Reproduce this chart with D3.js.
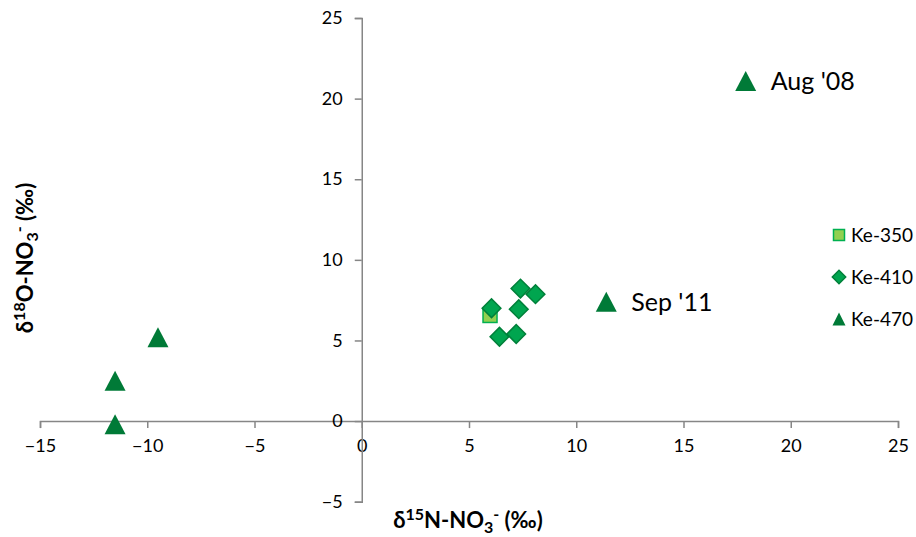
<!DOCTYPE html>
<html>
<head>
<meta charset="utf-8">
<script src="https://cdn.jsdelivr.net/npm/d3@7"></script>
<style>
  body { margin: 0; background: #fff; }
  svg text { font-family: Lato, "Open Sans", sans-serif; fill: #000; }
</style>
</head>
<body>
<div id="chart"></div>
<script>
// values (d15N, d18O)
var ke350 = [[5.98, 6.55]];
var ke410 = [[6.05, 7.0], [7.4, 8.22], [8.1, 7.87], [7.32, 6.94], [6.42, 5.23], [7.2, 5.4]];
var ke470 = [[-11.5, -0.2], [-11.5, 2.5], [-9.5, 5.2], [11.4, 7.4], [17.9, 21.1]];
var notes = [{x: 17.9, y: 21.1, text: "Aug '08"}, {x: 11.4, y: 7.4, text: "Sep '11"}];
var xTicks = [-15, -10, -5, 0, 5, 10, 15, 20, 25];
var yTicks = [-5, 0, 5, 10, 15, 20, 25];
var seriesNames = ["Ke-350", "Ke-410", "Ke-470"];

var width = 916, height = 537;

var svg = d3.select("#chart").append("svg")
    .attr("width", width)
    .attr("height", height);

var x = d3.scaleLinear().domain([-15, 25]).range([40, 898]);
var y = d3.scaleLinear().domain([-5, 25]).range([501.7, 18]);

var axisColor = "#868686";

// x axis through y = 0
var gx = svg.append("g")
    .attr("transform", "translate(0," + y(0) + ")")
    .call(d3.axisBottom(x).tickValues(xTicks).tickSize(7).tickPadding(5));

// y axis through x = 0
var gy = svg.append("g")
    .attr("transform", "translate(" + x(0) + ",0)")
    .call(d3.axisLeft(y).tickValues(yTicks).tickSize(7).tickPadding(12));

[gx, gy].forEach(function (g) {
  g.select(".domain").attr("stroke", axisColor).attr("stroke-width", 1.5);
  g.selectAll(".tick line").attr("stroke", axisColor).attr("stroke-width", 1.5);
  g.selectAll(".tick text").style("font-size", "18px").style("font-family", "Lato, 'Open Sans', sans-serif").attr("fill", "#000");
});
gx.selectAll(".tick text").attr("dy", "1.05em");

// Excel-like triangle: bounding box centred on the point
function triangle(w, h) {
  var p = d3.path();
  p.moveTo(0, -h / 2);
  p.lineTo(w / 2, h / 2);
  p.lineTo(-w / 2, h / 2);
  p.closePath();
  return p.toString();
}

var dia = d3.symbol().type(d3.symbolSquare).size(175);

svg.append("g").selectAll("path")
    .data(ke470)
  .enter().append("path")
    .attr("d", triangle(21, 20))
    .attr("transform", function (d) { return "translate(" + x(d[0]) + "," + y(d[1]) + ")"; })
    .attr("fill", "#007a37");

svg.append("g").selectAll("rect")
    .data(ke350)
  .enter().append("rect")
    .attr("x", function (d) { return x(d[0]) - 7; })
    .attr("y", function (d) { return y(d[1]) - 7; })
    .attr("width", 14)
    .attr("height", 14)
    .attr("fill", "#92d050")
    .attr("stroke", "#00b050")
    .attr("stroke-width", 1.5);

svg.append("g").selectAll("path")
    .data(ke410)
  .enter().append("path")
    .attr("d", dia)
    .attr("transform", function (d) { return "translate(" + x(d[0]) + "," + y(d[1]) + ")rotate(45)"; })
    .attr("fill", "#00a54f")
    .attr("stroke", "#00803a")
    .attr("stroke-width", 1.5);

// annotations
svg.append("g").selectAll("text")
    .data(notes)
  .enter().append("text")
    .attr("x", function (d) { return x(d.x) + 25; })
    .attr("y", function (d) { return y(d.y) + 9; })
    .style("font-size", "25px")
    .text(function (d) { return d.text; });

// legend
var legend = svg.append("g").attr("transform", "translate(839,235)");
var rows = legend.selectAll("g")
    .data(seriesNames)
  .enter().append("g")
    .attr("transform", function (d, i) { return "translate(0," + i * 42 + ")"; });

rows.each(function (d, i) {
  var g = d3.select(this);
  if (i === 0) {
    g.append("rect").attr("x", -5.5).attr("y", -5.5).attr("width", 11).attr("height", 11)
      .attr("fill", "#92d050").attr("stroke", "#00b050").attr("stroke-width", 1.5);
  } else if (i === 1) {
    g.append("path").attr("d", d3.symbol().type(d3.symbolSquare).size(90))
      .attr("transform", "rotate(45)")
      .attr("fill", "#00a54f").attr("stroke", "#00803a").attr("stroke-width", 1.5);
  } else {
    g.append("path").attr("d", triangle(13, 13))
      .attr("fill", "#007a37");
  }
  g.append("text")
    .attr("x", 12)
    .attr("y", 7)
    .style("font-size", "19px")
    .text(d);
});

// axis titles
var xt = svg.append("text")
    .attr("x", 468)
    .attr("y", 528)
    .attr("text-anchor", "middle")
    .style("font-size", "22px")
    .style("font-weight", "bold");
xt.append("tspan").text("δ");
xt.append("tspan").attr("dy", -8).style("font-size", "16px").text("15");
xt.append("tspan").attr("dy", 8).text("N-NO");
xt.append("tspan").attr("dy", 5).style("font-size", "16px").text("3");
xt.append("tspan").attr("dy", -13).style("font-size", "16px").text("-");
xt.append("tspan").attr("dy", 8).text(" (‰)");

var yt = svg.append("text")
    .attr("transform", "translate(33,258)rotate(-90)")
    .attr("text-anchor", "middle")
    .style("font-size", "22px")
    .style("font-weight", "bold");
yt.append("tspan").text("δ");
yt.append("tspan").attr("dy", -8).style("font-size", "16px").text("18");
yt.append("tspan").attr("dy", 8).text("O-NO");
yt.append("tspan").attr("dy", 5).style("font-size", "16px").text("3");
yt.append("tspan").attr("dy", -13).style("font-size", "16px").text("-");
yt.append("tspan").attr("dy", 8).text(" (‰)");
</script>
</body>
</html>
